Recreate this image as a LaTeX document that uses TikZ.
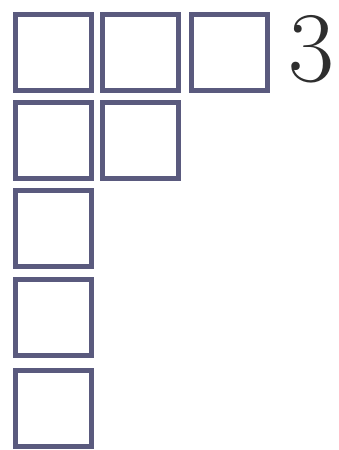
\documentclass[tikz,border=0pt]{standalone}
\usetikzlibrary{positioning}
\definecolor{cellBlue}{HTML}{5A5A7E}
\definecolor{labelGray}{HTML}{2E2E2E}
\tikzset{
  cell/.style  = {rectangle, draw=cellBlue, fill=white, line width=5pt,
                  minimum size=76pt, inner sep=0pt},
  count/.style = {font=\fontsize{100}{100}\selectfont, text=labelGray,
                  inner sep=0pt, anchor=base}
}
\begin{document}
\begin{tikzpicture}[x=1pt, y=1pt]
  \useasboundingbox (0,0) rectangle (339,450);
  % cells of the diagram: row/column/x/y
  \foreach \r/\c/\x/\y in {
      1/1/53.5/397.5, 1/2/140.5/397.5, 1/3/229.5/397.5,
      2/1/53.5/309.5, 2/2/140.5/309.5,
      3/1/53.5/221,
      4/1/53.5/132,
      5/1/53.5/41.5}{
    \node[cell] (c-\r-\c) at (\x, \y) {};
  }
  % row length
  \node[count] (len) at (311, 368) {3};
\end{tikzpicture}
\end{document}
